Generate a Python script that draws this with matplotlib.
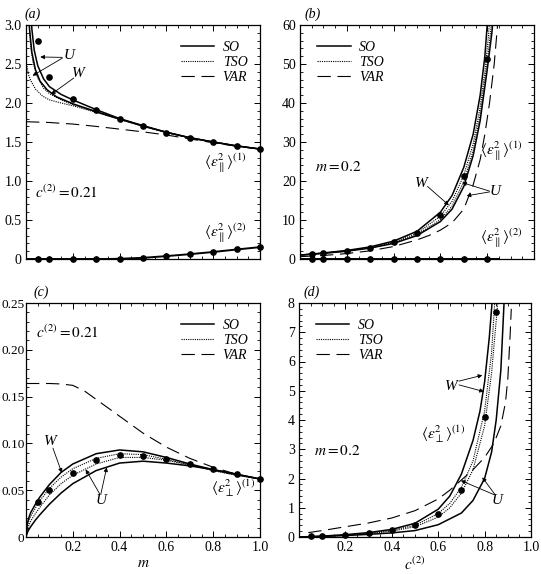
import matplotlib
matplotlib.use("Agg")
import matplotlib.pyplot as plt
from matplotlib.ticker import MultipleLocator, FixedLocator, FixedFormatter
from matplotlib.lines import Line2D

plt.rcParams["font.family"] = ["Liberation Serif", "DejaVu Serif"]
plt.rcParams["mathtext.fontset"] = "stix"

# ---------------- panel (a): <eps_par^2> vs m, c2 = 0.21 ----------------
a_so_w_m = [0.018, 0.025, 0.035, 0.05, 0.075, 0.1, 0.15, 0.2, 0.3, 0.4, 0.5, 0.6, 0.7, 0.8, 0.9, 1.0]
a_so_w = [3.3, 2.95, 2.68, 2.48, 2.31, 2.21, 2.11, 2.04, 1.915, 1.80, 1.71, 1.625, 1.555, 1.50, 1.45, 1.41]
a_so_u_m = [0.01, 0.015, 0.025, 0.04, 0.06, 0.09, 0.13, 0.2, 0.3, 0.4, 0.5, 0.6, 0.7, 0.8, 0.9, 1.0]
a_so_u = [3.3, 2.95, 2.65, 2.43, 2.28, 2.17, 2.08, 1.99, 1.89, 1.795, 1.705, 1.625, 1.555, 1.50, 1.45, 1.41]
a_tso_w_m = [0.012, 0.02, 0.03, 0.05, 0.075, 0.1, 0.15, 0.2, 0.3, 0.4, 0.5, 0.6, 0.7, 0.8, 0.9, 1.0]
a_tso_w = [3.1, 2.72, 2.52, 2.32, 2.19, 2.12, 2.04, 1.98, 1.885, 1.79, 1.705, 1.625, 1.555, 1.50, 1.45, 1.41]
a_tso_u_m = [0.003, 0.01, 0.02, 0.04, 0.07, 0.1, 0.15, 0.2, 0.3, 0.4, 0.5, 0.6, 0.7, 0.8, 0.9, 1.0]
a_tso_u = [2.5, 2.37, 2.29, 2.18, 2.09, 2.04, 2.0, 1.965, 1.88, 1.79, 1.70, 1.62, 1.55, 1.50, 1.45, 1.41]
a_var_m = [0.0, 0.1, 0.2, 0.3, 0.4, 0.5, 0.6, 0.7, 0.8, 0.9, 1.0]
a_var = [1.76, 1.75, 1.73, 1.70, 1.665, 1.63, 1.59, 1.54, 1.49, 1.445, 1.41]
a_dots_m = [0.05, 0.1, 0.2, 0.3, 0.4, 0.5, 0.6, 0.7, 0.8, 0.9, 1.0]
a_dots1 = [2.79, 2.33, 2.05, 1.91, 1.80, 1.70, 1.62, 1.555, 1.50, 1.45, 1.41]
a_dots2 = [0.0, 0.0, 0.0, 0.0, 0.0, 0.017, 0.038, 0.06, 0.09, 0.124, 0.15]
a_phase2_m = [0.0, 0.1, 0.2, 0.3, 0.35, 0.4, 0.5, 0.6, 0.7, 0.8, 0.9, 1.0]
a_phase2 = [0.0, 0.0, 0.0, 0.0, 0.0, 0.003, 0.015, 0.037, 0.062, 0.09, 0.122, 0.152]

# ---------------- panel (b): <eps_par^2> vs c2, m = 0.2 ----------------
b_so_w_c = [0.0, 0.1, 0.2, 0.3, 0.4, 0.5, 0.6, 0.65, 0.7, 0.74, 0.77, 0.79, 0.80, 0.81]
b_so_w = [1.0, 1.55, 2.2, 3.1, 4.6, 7.1, 12.0, 16.3, 23.5, 32.0, 42.0, 52.0, 60.0, 70.0]
b_so_u_c = [0.0, 0.1, 0.2, 0.3, 0.4, 0.5, 0.6, 0.65, 0.7, 0.74, 0.77, 0.8, 0.82, 0.83]
b_so_u = [1.0, 1.45, 2.0, 2.8, 4.0, 6.0, 9.6, 12.8, 18.6, 26.5, 35.5, 48.5, 58.0, 65.0]
b_tso_w_c = [0.0, 0.1, 0.2, 0.3, 0.4, 0.5, 0.6, 0.65, 0.7, 0.74, 0.77, 0.79, 0.805, 0.815]
b_tso_w = [1.0, 1.5, 2.1, 2.95, 4.3, 6.6, 11.0, 14.8, 21.5, 29.5, 39.0, 48.0, 57.0, 65.0]
b_tso_u_c = [0.0, 0.1, 0.2, 0.3, 0.4, 0.5, 0.6, 0.65, 0.7, 0.74, 0.77, 0.8, 0.815, 0.825]
b_tso_u = [1.0, 1.47, 2.05, 2.85, 4.1, 6.2, 10.1, 13.6, 19.8, 27.8, 37.0, 50.5, 58.5, 65.0]
b_var_c = [0.0, 0.1, 0.2, 0.3, 0.4, 0.5, 0.55, 0.6, 0.65, 0.7, 0.74, 0.77, 0.79, 0.81, 0.83, 0.845]
b_var = [0.6, 0.9, 1.4, 2.1, 3.2, 4.9, 6.0, 7.4, 9.3, 12.8, 19.0, 25.5, 32.0, 40.0, 50.0, 60.5]
b_dots_c = [0.05, 0.1, 0.2, 0.3, 0.4, 0.5, 0.6, 0.7, 0.8]
b_dots1 = [1.28, 1.6, 2.1, 2.9, 4.4, 6.75, 11.3, 21.4, 51.2]
b_dots2 = [0.0, 0.0, 0.0, 0.0, 0.0, 0.0, 0.0, 0.0, 0.0]
b_phase2_c = [0.0, 0.85]
b_phase2 = [0.0, 0.0]

# ---------------- panel (c): <eps_perp^2> vs m, c2 = 0.21 ----------------
c_m = [0.0, 0.005, 0.01, 0.02, 0.04, 0.06, 0.1, 0.15, 0.2, 0.3, 0.4, 0.5, 0.6, 0.7, 0.8, 0.9, 1.0]
c_so_w = [0.0, 0.013, 0.019, 0.026, 0.035, 0.043, 0.056, 0.069, 0.078, 0.089, 0.093, 0.091, 0.085, 0.078, 0.072, 0.067, 0.062]
c_so_u = [0.0, 0.004, 0.007, 0.011, 0.018, 0.024, 0.035, 0.047, 0.057, 0.071, 0.079, 0.081, 0.079, 0.076, 0.072, 0.067, 0.062]
c_tso_w = [0.0, 0.010, 0.016, 0.022, 0.031, 0.039, 0.052, 0.064, 0.073, 0.084, 0.089, 0.088, 0.083, 0.077, 0.071, 0.066, 0.062]
c_tso_u = [0.0, 0.007, 0.011, 0.017, 0.025, 0.032, 0.045, 0.057, 0.066, 0.078, 0.085, 0.085, 0.082, 0.077, 0.071, 0.066, 0.062]
c_var_m = [0.0, 0.1, 0.15, 0.2, 0.25, 0.3, 0.4, 0.5, 0.6, 0.7, 0.8, 0.9, 1.0]
c_var = [0.164, 0.164, 0.1635, 0.162, 0.156, 0.147, 0.129, 0.111, 0.096, 0.084, 0.0745, 0.067, 0.062]
c_dots_m = [0.05, 0.1, 0.2, 0.3, 0.4, 0.5, 0.6, 0.7, 0.8, 0.9, 1.0]
c_dots = [0.0375, 0.0507, 0.0686, 0.082, 0.0875, 0.0864, 0.0829, 0.0779, 0.0725, 0.067, 0.0618]

# ---------------- panel (d): <eps_perp^2> vs c2, m = 0.2 ----------------
d_so_w_c = [0.0, 0.1, 0.2, 0.3, 0.4, 0.5, 0.6, 0.65, 0.7, 0.75, 0.78, 0.8, 0.82, 0.835]
d_so_w = [0.0, 0.03, 0.08, 0.15, 0.26, 0.47, 0.95, 1.4, 2.15, 3.3, 4.3, 5.3, 6.8, 8.3]
d_so_u_c = [0.0, 0.1, 0.2, 0.3, 0.4, 0.5, 0.6, 0.7, 0.75, 0.8, 0.83, 0.85, 0.87, 0.885]
d_so_u = [0.0, 0.02, 0.05, 0.09, 0.14, 0.22, 0.42, 0.82, 1.25, 2.0, 2.9, 4.0, 5.7, 8.2]
d_tso_w_c = [0.0, 0.1, 0.2, 0.3, 0.4, 0.5, 0.6, 0.65, 0.7, 0.75, 0.8, 0.83, 0.845]
d_tso_w = [0.0, 0.025, 0.07, 0.13, 0.23, 0.4, 0.8, 1.15, 1.7, 2.6, 4.3, 6.3, 8.2]
d_tso_u_c = [0.0, 0.1, 0.2, 0.3, 0.4, 0.5, 0.6, 0.65, 0.7, 0.75, 0.8, 0.83, 0.85, 0.86]
d_tso_u = [0.0, 0.02, 0.06, 0.11, 0.2, 0.35, 0.68, 1.0, 1.5, 2.3, 3.8, 5.6, 7.4, 8.3]
d_var_c = [0.04, 0.1, 0.2, 0.3, 0.4, 0.5, 0.6, 0.65, 0.7, 0.75, 0.8, 0.84, 0.87, 0.89, 0.9, 0.91, 0.915]
d_var = [0.15, 0.22, 0.35, 0.48, 0.65, 0.9, 1.3, 1.6, 1.95, 2.3, 2.72, 3.2, 3.8, 4.6, 5.4, 6.9, 7.8]
d_dots_c = [0.05, 0.1, 0.2, 0.3, 0.4, 0.5, 0.6, 0.7, 0.8, 0.85]
d_dots = [0.02, 0.03, 0.08, 0.15, 0.25, 0.42, 0.77, 1.59, 4.11, 7.69]

LEGEND_LABELS = ["SO", "TSO", "VAR"]

SOLID = dict(color="black", linewidth=1.1)
DOTTED = dict(color="black", linewidth=0.8, linestyle=(0, (1, 1)))
DASHED = dict(color="black", linewidth=0.8, linestyle=(0, (12, 6)))
DOTS = dict(color="black", linestyle="none", marker="o", markersize=3.8)
ARROW = dict(arrowstyle="-|>", color="black", linewidth=0.6,
             mutation_scale=6, shrinkA=0, shrinkB=0)
FS = 10
TFS = 11


def style_axes(ax, xlim, ylim, ymajor, yminor, xlabels):
    ax.set_xlim(*xlim)
    ax.set_ylim(*ylim)
    ax.xaxis.set_major_locator(MultipleLocator(0.2))
    ax.xaxis.set_minor_locator(MultipleLocator(0.05))
    ax.yaxis.set_major_locator(MultipleLocator(ymajor))
    ax.yaxis.set_minor_locator(MultipleLocator(yminor))
    ax.tick_params(which="both", direction="in", top=True, right=True,
                   labelsize=FS, pad=3)
    ax.tick_params(which="major", length=4, width=0.7)
    ax.tick_params(which="minor", length=2, width=0.6)
    for spine in ax.spines.values():
        spine.set_linewidth(0.9)
    if xlabels:
        ticks = [0.2, 0.4, 0.6, 0.8, 1.0]
        ax.xaxis.set_major_locator(FixedLocator(ticks))
        ax.xaxis.set_major_formatter(FixedFormatter([f"{t:.1f}" for t in ticks]))
    else:
        ax.tick_params(axis="x", labelbottom=False)


def add_legend(ax, loc, anchor):
    handles = [Line2D([], [], **SOLID), Line2D([], [], **DOTTED),
               Line2D([], [], **DASHED)]
    ax.legend(handles, LEGEND_LABELS, loc=loc, bbox_to_anchor=anchor,
              frameon=False, handlelength=2.4, handletextpad=0.6,
              labelspacing=0.15, prop={"style": "italic", "size": FS})


def arrow(ax, text_xy, head_xy):
    ax.annotate("", xy=head_xy, xytext=text_xy, arrowprops=ARROW)


fig = plt.figure(figsize=(5.41, 5.74), dpi=100)
W, H = 541.0, 574.0
ax_a = fig.add_axes([26 / W, 1 - 259 / H, 234 / W, 234 / H])
ax_b = fig.add_axes([300 / W, 1 - 259 / H, 234 / W, 234 / H])
ax_c = fig.add_axes([26 / W, 1 - 537 / H, 234 / W, 234 / H])
ax_d = fig.add_axes([299 / W, 1 - 537 / H, 232 / W, 234 / H])

par1 = r"$\langle\varepsilon_{\parallel}^{2}\rangle^{(1)}$"
par2 = r"$\langle\varepsilon_{\parallel}^{2}\rangle^{(2)}$"
perp1 = r"$\langle\varepsilon_{\perp}^{2}\rangle^{(1)}$"

# (a)
ax = ax_a
ax.plot(a_so_w_m, a_so_w, **SOLID)
ax.plot(a_so_u_m, a_so_u, **SOLID)
ax.plot(a_tso_w_m, a_tso_w, **DOTTED)
ax.plot(a_tso_u_m, a_tso_u, **DOTTED)
ax.plot(a_var_m, a_var, **DASHED)
ax.plot(a_phase2_m, a_phase2, color="black", linewidth=1.4)
ax.plot(a_dots_m, a_dots1, clip_on=False, **DOTS)
ax.plot(a_dots_m, a_dots2, clip_on=False, **DOTS)
style_axes(ax, (0, 1), (0, 3.0), 0.5, 0.1, False)
ax.yaxis.set_major_formatter(FixedFormatter(["0", "0.5", "1.0", "1.5", "2.0", "2.5", "3.0"]))
ax.yaxis.set_major_locator(FixedLocator([0, 0.5, 1.0, 1.5, 2.0, 2.5, 3.0]))
add_legend(ax, "upper right", (1.0, 0.985))
ax.text(0.185, 2.615, "U", style="italic", fontsize=TFS, ha="center", va="center")
arrow(ax, (0.155, 2.585), (0.061, 2.59))
arrow(ax, (0.155, 2.575), (0.028, 2.35))
ax.text(0.222, 2.38, "W", style="italic", fontsize=TFS, ha="center", va="center")
arrow(ax, (0.204, 2.32), (0.107, 2.11))
ax.text(0.85, 1.23, par1, fontsize=TFS, ha="center", va="center")
ax.text(0.85, 0.33, par2, fontsize=TFS, ha="center", va="center")
ax.text(0.04, 0.85, r"$c^{(2)}=0.21$", fontsize=TFS, ha="left", va="center")
ax.text(-0.005, 1.015, "(a)", style="italic", fontsize=FS, transform=ax.transAxes,
        ha="left", va="bottom")

# (b)
ax = ax_b
ax.plot(b_so_w_c, b_so_w, **SOLID)
ax.plot(b_so_u_c, b_so_u, **SOLID)
ax.plot(b_tso_w_c, b_tso_w, **DOTTED)
ax.plot(b_tso_u_c, b_tso_u, **DOTTED)
ax.plot(b_var_c, b_var, **DASHED)
ax.plot(b_phase2_c, b_phase2, color="black", linewidth=1.4)
ax.plot(b_dots_c, b_dots1, **DOTS)
ax.plot(b_dots_c, b_dots2, clip_on=False, **DOTS)
style_axes(ax, (0, 1), (0, 60), 10, 2, False)
add_legend(ax, "upper left", (0.02, 0.985))
ax.text(0.064, 23.7, r"$m=0.2$", fontsize=TFS, ha="left", va="center")
ax.text(0.86, 27.5, par1, fontsize=TFS, ha="center", va="center")
ax.text(0.86, 5.3, par2, fontsize=TFS, ha="center", va="center")
ax.text(0.52, 19.4, "W", style="italic", fontsize=TFS, ha="center", va="center")
arrow(ax, (0.545, 18.6), (0.636, 13.8))
ax.text(0.835, 17.3, "U", style="italic", fontsize=TFS, ha="center", va="center")
arrow(ax, (0.81, 17.4), (0.693, 19.6))
arrow(ax, (0.81, 17.2), (0.712, 16.2))
ax.text(0.02, 1.015, "(b)", style="italic", fontsize=FS, transform=ax.transAxes,
        ha="left", va="bottom")

# (c)
ax = ax_c
ax.plot(c_m, c_so_w, **SOLID)
ax.plot(c_m, c_so_u, **SOLID)
ax.plot(c_m, c_tso_w, **DOTTED)
ax.plot(c_m, c_tso_u, **DOTTED)
ax.plot(c_var_m, c_var, **DASHED)
ax.plot(c_dots_m, c_dots, clip_on=False, **DOTS)
style_axes(ax, (0, 1), (0, 0.25), 0.05, 0.01, True)
ax.yaxis.set_major_locator(FixedLocator([0, 0.05, 0.10, 0.15, 0.20, 0.25]))
ax.yaxis.set_major_formatter(FixedFormatter(["0", "0.05", "0.10", "0.15", "0.20", "0.25"]))
ax.tick_params(axis="y", which="major", pad=1, labelsize=9.5)
ax.set_xlabel(r"$m$", fontsize=TFS, labelpad=2)
add_legend(ax, "upper right", (1.0, 0.985))
ax.text(0.043, 0.219, r"$c^{(2)}=0.21$", fontsize=TFS, ha="left", va="center")
ax.text(0.103, 0.102, "W", style="italic", fontsize=TFS, ha="center", va="center")
arrow(ax, (0.115, 0.095), (0.153, 0.0686))
ax.text(0.32, 0.039, "U", style="italic", fontsize=TFS, ha="center", va="center")
arrow(ax, (0.315, 0.046), (0.255, 0.0722))
arrow(ax, (0.32, 0.046), (0.345, 0.0744))
ax.text(0.885, 0.052, perp1, fontsize=TFS, ha="center", va="center")
ax.text(0.03, 1.015, "(c)", style="italic", fontsize=FS, transform=ax.transAxes,
        ha="left", va="bottom")

# (d)
ax = ax_d
ax.plot(d_so_w_c, d_so_w, **SOLID)
ax.plot(d_so_u_c, d_so_u, **SOLID)
ax.plot(d_tso_w_c, d_tso_w, **DOTTED)
ax.plot(d_tso_u_c, d_tso_u, **DOTTED)
ax.plot(d_var_c, d_var, **DASHED)
ax.plot(d_dots_c, d_dots, clip_on=False, **DOTS)
style_axes(ax, (0, 1), (0, 8), 1, 0.2, True)
ax.set_xlabel(r"$c^{(2)}$", fontsize=TFS, labelpad=1)
add_legend(ax, "upper left", (0.02, 0.985))
ax.text(0.066, 2.95, r"$m=0.2$", fontsize=TFS, ha="left", va="center")
ax.text(0.655, 5.16, "W", style="italic", fontsize=TFS, ha="center", va="center")
arrow(ax, (0.69, 5.33), (0.79, 5.53))
arrow(ax, (0.69, 5.2), (0.797, 4.97))
ax.text(0.62, 3.52, perp1, fontsize=TFS, ha="center", va="center")
ax.text(0.855, 1.25, "U", style="italic", fontsize=TFS, ha="center", va="center")
arrow(ax, (0.84, 1.45), (0.698, 1.93))
arrow(ax, (0.845, 1.45), (0.79, 2.04))
ax.text(0.02, 1.015, "(d)", style="italic", fontsize=FS, transform=ax.transAxes,
        ha="left", va="bottom")

fig.savefig("out.png", dpi=100)
